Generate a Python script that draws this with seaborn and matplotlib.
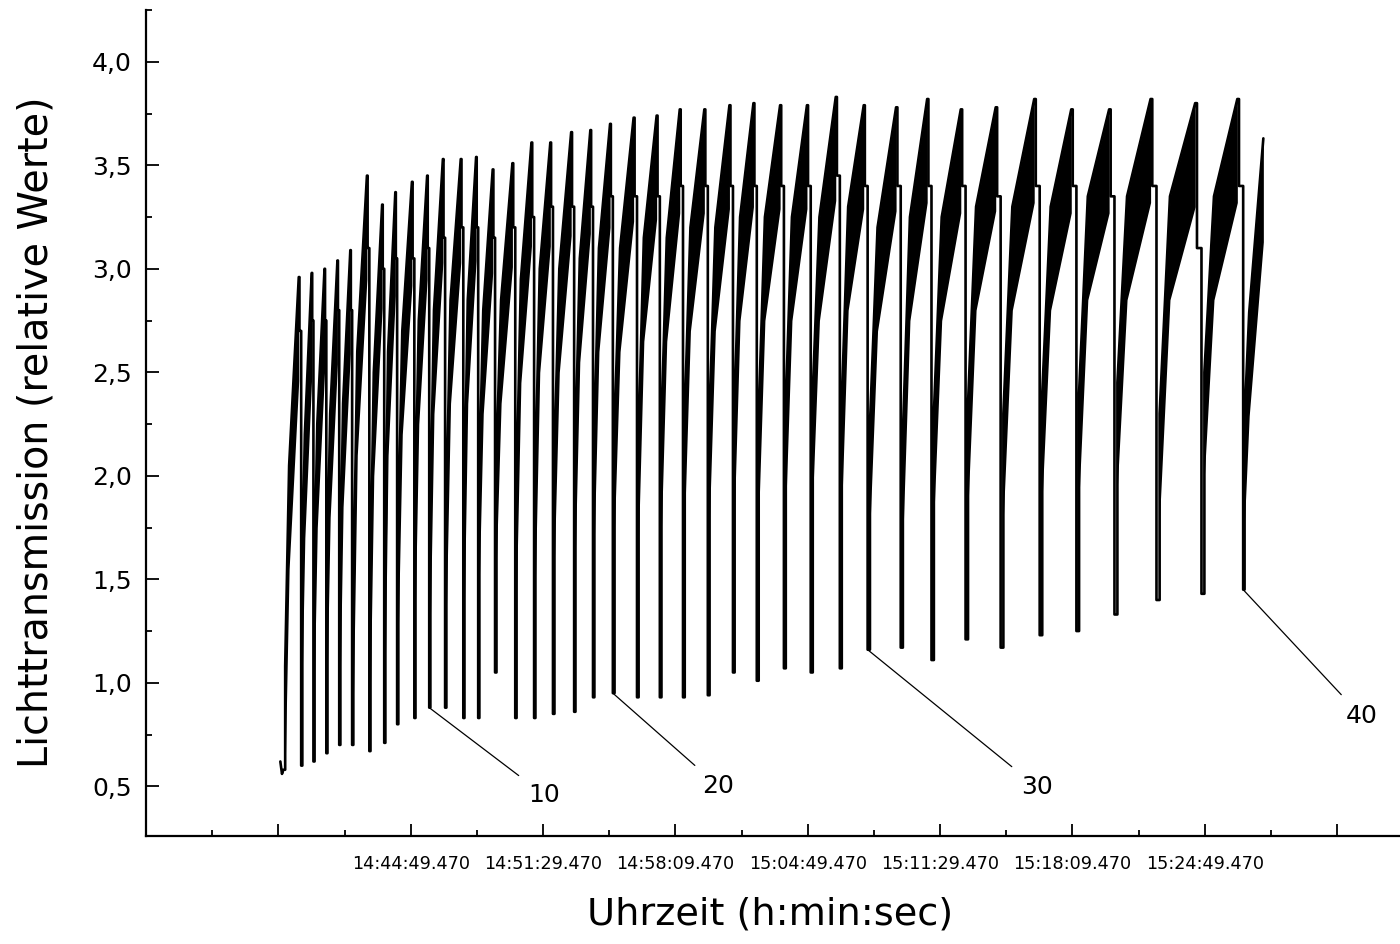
import matplotlib
matplotlib.use("Agg")
import matplotlib.pyplot as plt
import seaborn as sns
import numpy as np
import pandas as pd
from matplotlib.ticker import MultipleLocator

# Zeit in Sekunden ab 14:38:09.470
lead_t = [6, 11, 15]
lead_v = [0.62, 0.56, 0.58]

# Minima der einzelnen Zyklen (Zeit, Wert)
trough_t = [17, 69, 106, 145, 184, 223, 275, 320, 359, 411,
            456, 504, 559, 604, 655, 716, 773, 830, 894, 951,
            1011, 1084, 1153, 1223, 1298, 1374, 1446, 1528, 1609, 1697,
            1781, 1881, 1974, 2077, 2183, 2301, 2412, 2527, 2654, 2790,
            2916]
trough_v = [0.58, 0.60, 0.62, 0.66, 0.70, 0.70, 0.67, 0.71, 0.80, 0.83,
            0.88, 0.88, 0.83, 0.83, 1.05, 0.83, 0.83, 0.85, 0.86, 0.93,
            0.95, 0.93, 0.93, 0.93, 0.94, 1.05, 1.01, 1.07, 1.05, 1.07,
            1.16, 1.17, 1.11, 1.21, 1.17, 1.23, 1.25, 1.33, 1.40, 1.43,
            1.45]
# erste Stufe nach dem Minimum
step_v = [1.08, 1.55, 1.55, 1.60, 1.55, 1.40, 1.50, 1.60, 1.75, 1.90,
          1.80, 1.85, 1.90, 2.00, 2.10, 1.95, 2.00, 2.10, 2.15, 2.20,
          2.25, 2.20, 2.25, 2.30, 2.30, 2.35, 2.30, 2.35, 2.40, 2.35,
          2.25, 2.20, 2.30, 2.35, 2.30, 2.40, 2.40, 2.45, 2.30, 2.50,
          2.28]
# Beginn des Anstiegs
mid_v = [2.05, 2.20, 2.25, 2.30, 2.35, 2.60, 2.50, 2.60, 2.70, 2.75,
         2.80, 2.85, 2.85, 2.80, 2.85, 2.95, 3.00, 3.00, 3.05, 3.10,
         3.10, 3.15, 3.15, 3.20, 3.20, 3.25, 3.25, 3.25, 3.25, 3.30,
         3.20, 3.25, 3.25, 3.30, 3.30, 3.30, 3.35, 3.35, 3.35, 3.35,
         2.79]
# Maximum vor dem nächsten Abfall
peak_v = [2.96, 2.98, 3.00, 3.04, 3.09, 3.45, 3.31, 3.37, 3.42, 3.45,
          3.53, 3.53, 3.54, 3.48, 3.51, 3.61, 3.61, 3.66, 3.67, 3.70,
          3.73, 3.74, 3.77, 3.77, 3.79, 3.80, 3.79, 3.79, 3.83, 3.79,
          3.78, 3.82, 3.77, 3.78, 3.82, 3.77, 3.77, 3.82, 3.80, 3.82,
          3.63]
# Schulter kurz vor dem Abfall
shoulder_v = [2.70, 2.75, 2.75, 2.80, 2.80, 3.10, 3.00, 3.05, 3.05, 3.10,
              3.15, 3.20, 3.20, 3.15, 3.20, 3.25, 3.30, 3.30, 3.30, 3.35,
              3.35, 3.35, 3.40, 3.40, 3.40, 3.40, 3.40, 3.40, 3.45, 3.40,
              3.40, 3.40, 3.40, 3.35, 3.40, 3.40, 3.35, 3.40, 3.10, 3.40]
end_t = 2977

x_ticks = [0, 400, 800, 1200, 1600, 2000, 2400, 2800, 3200]
x_labels = ['', '14:44:49.470', '14:51:29.470', '14:58:09.470', '15:04:49.470',
            '15:11:29.470', '15:18:09.470', '15:24:49.470', '']
y_ticks = [0.5, 1.0, 1.5, 2.0, 2.5, 3.0, 3.5, 4.0]
y_labels = ['0,5', '1,0', '1,5', '2,0', '2,5', '3,0', '3,5', '4,0']

marked = [10, 20, 30, 40]
marked_offsets = [(83, -63), (76, -67), (122, -99), (85, -91)]

# Linienzug aufbauen (Phasen innerhalb eines Zyklus als Anteil der Periode)
xs, ys = list(lead_t), list(lead_v)
bands = []
n = len(trough_t)
for k in range(n):
    T = trough_t[k]
    last = k == n - 1
    Tn = end_t if last else trough_t[k + 1]
    P = Tn - T
    g = max(0.07 * P, 3.5)
    t_m = T + 0.3 * P
    t_p = Tn if last else T + 0.86 * P
    xs += [T, T + g, T + g, t_m, t_p]
    ys += [trough_v[k], trough_v[k], step_v[k], mid_v[k], peak_v[k]]
    bands.append(([T + g, t_m, t_p], [step_v[k], mid_v[k], peak_v[k]]))
    if not last:
        t_d = T + 0.9 * P
        xs += [t_d, t_d, Tn]
        ys += [peak_v[k], shoulder_v[k], shoulder_v[k]]

df = pd.DataFrame({'Zeit': xs, 'Wert': ys})

sns.set_style('white')
plt.rcParams['font.family'] = ['DejaVu Sans']
for key in ['text.color', 'axes.labelcolor', 'xtick.color', 'ytick.color']:
    plt.rcParams[key] = 'black'

fig = plt.figure(figsize=(14, 9.44), dpi=100)
ax = fig.add_axes([146 / 1400, 108 / 944, 1254 / 1400, 826 / 944])

sns.lineplot(data=df, x='Zeit', y='Wert', sort=False, estimator=None,
             color='black', linewidth=1.9, ax=ax)
band = 0.5
for bx, by in bands:
    by = np.array(by)
    ax.fill_between(bx, by - band, by, color='black', lw=0)

ax.set_xlim(-400, 3390)
ax.set_ylim(0.26, 4.25)
ax.set_xticks(x_ticks)
ax.set_xticklabels(x_labels, fontsize=12.7)
ax.xaxis.set_minor_locator(MultipleLocator(200))
ax.set_yticks(y_ticks)
ax.set_yticklabels(y_labels, fontsize=18)
ax.yaxis.set_minor_locator(MultipleLocator(0.25))
ax.tick_params(which='both', direction='in', bottom=True, left=True,
               color='black', width=1.3)
ax.tick_params(which='major', length=9)
ax.tick_params(which='minor', length=4)
ax.tick_params(axis='x', which='major', pad=14)
ax.tick_params(axis='y', which='major', pad=10)

sns.despine(ax=ax)
for s in ['left', 'bottom']:
    ax.spines[s].set_linewidth(1.6)
    ax.spines[s].set_color('black')

ax.set_xlabel('Uhrzeit (h:min:sec)', fontsize=27.5)
ax.set_ylabel('Lichttransmission (relative Werte)', fontsize=28.5)
ax.xaxis.set_label_coords(0.4976, -0.0956)
ax.xaxis.label.set_va('center')
ax.yaxis.set_label_coords(-0.0877, 0.489)
ax.yaxis.label.set_va('center')

for idx, off in zip(marked, marked_offsets):
    ax.annotate(str(idx), xy=(trough_t[idx], trough_v[idx]), xytext=off,
                textcoords='offset points', fontsize=18, ha='center', va='center',
                arrowprops=dict(arrowstyle='-', color='black', lw=0.9,
                                shrinkA=6, shrinkB=0))

fig.savefig('out.png', dpi=100)
